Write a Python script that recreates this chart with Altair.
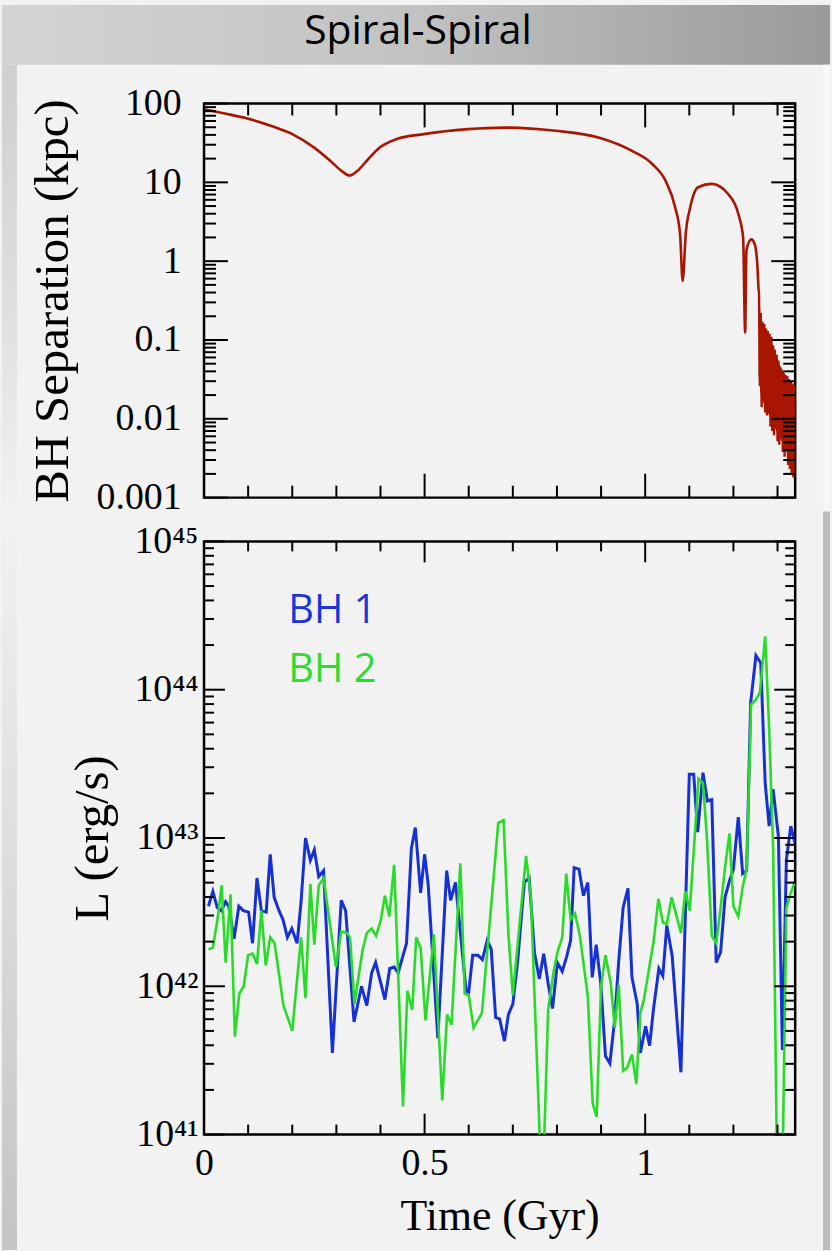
import altair as alt
import numpy as np
import pandas as pd

# ---------------- data ----------------
# Top panel: BH separation (kpc) vs time (Gyr)
sep_time = [0.000, 0.047, 0.0985, 0.151, 0.200, 0.249, 0.286, 0.313, 0.330, 0.3465,
            0.369, 0.399, 0.437, 0.498, 0.598, 0.680, 0.797, 0.894, 0.970, 1.016,
            1.046, 1.068, 1.079, 1.085, 1.092, 1.102, 1.120, 1.151, 1.188, 1.211,
            1.222, 1.2266, 1.2295, 1.2405, 1.248, 1.254, 1.257]
sep_kpc = [84.7, 74.8, 64.5, 52.1, 40.9, 27.8, 18.8, 13.8, 12.2, 13.8,
           18.8, 27.8, 35.4, 40.9, 47.3, 49.5, 45.1, 37.1, 25.1, 17.1,
           10.5, 4.8, 2.23, 0.56, 2.23, 4.8, 8.67, 9.55, 7.1, 4.0,
           2.0, 0.124, 1.37, 1.89, 1.66, 0.93, 0.43]
# final fast orbit (dense oscillation)
orbit_time = [1.257, 1.258, 1.260, 1.262, 1.264, 1.266, 1.268, 1.270, 1.272, 1.274, 1.276,
              1.278, 1.280, 1.282, 1.284, 1.286, 1.288, 1.290, 1.292, 1.294, 1.296,
              1.298, 1.300, 1.302, 1.304, 1.306, 1.308, 1.310, 1.312, 1.314, 1.316,
              1.318, 1.320, 1.322, 1.324, 1.326, 1.328, 1.330, 1.332, 1.334, 1.336,
              1.338]
orbit_kpc = [0.43, 0.40, 0.026, 0.22, 0.014, 0.17, 0.03, 0.16, 0.012, 0.14, 0.011,
             0.13, 0.02, 0.12, 0.008, 0.11, 0.007, 0.085, 0.0062, 0.075, 0.012,
             0.065, 0.0052, 0.055, 0.0047, 0.045, 0.009, 0.040, 0.0038, 0.038, 0.0033,
             0.036, 0.006, 0.035, 0.0026, 0.032, 0.0023, 0.030, 0.0020, 0.028, 0.0018,
             0.026]
# envelope of the fast orbit (filled band)
env_time = [1.257, 1.262, 1.266, 1.275, 1.285, 1.295, 1.305, 1.315, 1.325, 1.338]
env_high = [0.40, 0.20, 0.16, 0.13, 0.10, 0.07, 0.048, 0.038, 0.032, 0.026]
env_low = [0.035, 0.020, 0.017, 0.013, 0.010, 0.0075, 0.0058, 0.0045, 0.0033, 0.0024]

# Bottom panel: log10 L (erg/s)
bh1_time = [0.010, 0.020, 0.030, 0.039, 0.049, 0.056, 0.068, 0.079, 0.089, 0.101,
            0.110, 0.120, 0.130, 0.141, 0.150, 0.159, 0.170, 0.179, 0.189, 0.199,
            0.211, 0.220, 0.230, 0.241, 0.250, 0.260, 0.271, 0.291, 0.311, 0.321,
            0.340, 0.357, 0.369, 0.380, 0.389, 0.410, 0.421, 0.431, 0.440, 0.459,
            0.470, 0.479, 0.491, 0.500, 0.508, 0.530, 0.550, 0.559, 0.570, 0.594,
            0.600, 0.609, 0.621, 0.631, 0.642, 0.651, 0.661, 0.670, 0.681, 0.690,
            0.700, 0.711, 0.726, 0.737, 0.749, 0.760, 0.770, 0.781, 0.790, 0.801,
            0.812, 0.822, 0.831, 0.839, 0.850, 0.860, 0.870, 0.880, 0.889, 0.899,
            0.910, 0.920, 0.931, 0.940, 0.950, 0.961, 0.970, 0.982, 0.989, 1.001,
            1.010, 1.019, 1.031, 1.040, 1.049, 1.061, 1.081, 1.100, 1.110, 1.119,
            1.131, 1.141, 1.151, 1.161, 1.171, 1.181, 1.191, 1.200, 1.211, 1.221,
            1.230, 1.239, 1.251, 1.262, 1.272, 1.281, 1.290, 1.302, 1.311, 1.320,
            1.330, 1.339]
bh1_logL = [42.54, 42.64, 42.53, 42.51, 42.57, 42.54, 42.32, 42.54, 42.51, 42.50,
            42.29, 42.73, 42.51, 42.50, 42.89, 42.60, 42.51, 42.45, 42.33, 42.39,
            42.29, 42.57, 43.00, 42.85, 42.92, 42.74, 42.78, 41.55, 42.58, 42.51,
            41.76, 42.00, 41.87, 42.09, 42.16, 41.91, 42.12, 42.13, 42.09, 42.29,
            42.93, 43.07, 42.63, 42.89, 42.69, 41.65, 42.78, 42.58, 42.70, 41.97,
            41.96, 42.21, 42.21, 42.18, 42.31, 42.25, 41.79, 41.78, 41.63, 41.81,
            41.88, 42.17, 42.70, 42.73, 42.23, 42.05, 42.22, 42.00, 41.85, 42.16,
            42.10, 42.20, 42.31, 42.80, 42.79, 42.61, 42.70, 42.06, 42.28, 42.03,
            41.53, 41.48, 41.78, 42.17, 42.53, 42.66, 42.06, 41.88, 41.55, 41.73,
            41.60, 41.85, 42.12, 42.07, 42.41, 42.21, 41.42, 43.43, 43.43, 43.04,
            43.44, 43.25, 43.26, 42.16, 42.23, 42.60, 42.71, 42.79, 43.14, 42.76,
            42.78, 43.91, 44.23, 44.18, 43.37, 43.08, 43.33, 43.01, 41.57, 42.85,
            43.08, 42.97]
bh2_time = [0.010, 0.020, 0.030, 0.040, 0.049, 0.060, 0.070, 0.080, 0.090, 0.100,
            0.110, 0.120, 0.130, 0.140, 0.150, 0.160, 0.180, 0.200, 0.220, 0.230,
            0.241, 0.250, 0.260, 0.271, 0.299, 0.311, 0.324, 0.331, 0.341, 0.359,
            0.369, 0.380, 0.390, 0.401, 0.410, 0.420, 0.431, 0.451, 0.461, 0.472,
            0.481, 0.491, 0.502, 0.521, 0.540, 0.551, 0.561, 0.581, 0.591, 0.600,
            0.611, 0.630, 0.667, 0.679, 0.690, 0.700, 0.730, 0.741, 0.762, 0.771,
            0.780, 0.792, 0.801, 0.812, 0.821, 0.831, 0.841, 0.852, 0.870, 0.881,
            0.890, 0.900, 0.910, 0.922, 0.931, 0.940, 0.950, 0.959, 0.970, 0.980,
            0.989, 0.997, 1.010, 1.019, 1.030, 1.040, 1.049, 1.060, 1.081, 1.091,
            1.101, 1.110, 1.121, 1.131, 1.140, 1.151, 1.161, 1.171, 1.181, 1.191,
            1.200, 1.211, 1.221, 1.230, 1.240, 1.250, 1.260, 1.272, 1.281, 1.290,
            1.300, 1.310, 1.320, 1.330, 1.339]
bh2_logL = [42.25, 42.26, 42.44, 42.68, 42.16, 42.62, 41.66, 41.95, 42.00, 42.21,
            42.22, 42.15, 42.51, 42.14, 42.33, 42.29, 41.87, 41.70, 42.33, 41.92,
            42.69, 42.28, 42.68, 42.73, 42.13, 42.37, 42.36, 42.33, 41.88, 42.24,
            42.36, 42.39, 42.34, 42.45, 42.61, 42.47, 42.82, 41.19, 41.97, 41.84,
            42.33, 42.26, 41.77, 42.35, 41.23, 41.81, 41.74, 42.83, 41.95, 41.94,
            41.72, 41.82, 43.10, 43.12, 42.35, 41.94, 42.88, 42.60, 40.90, 40.95,
            41.84, 42.09, 42.23, 42.33, 42.76, 42.45, 42.49, 42.34, 41.93, 41.21,
            41.12, 42.00, 42.21, 42.02, 41.72, 42.01, 41.43, 41.45, 41.54, 41.34,
            41.82, 41.91, 42.14, 42.30, 42.59, 42.43, 42.42, 42.60, 42.36, 42.64,
            42.51, 42.91, 43.40, 43.37, 43.00, 42.34, 42.29, 42.53, 42.80, 43.03,
            42.54, 42.47, 42.67, 42.79, 43.90, 43.93, 43.98, 44.36, 43.74, 42.93,
            40.50, 40.50, 42.53, 42.63, 42.70]

legend_names = ["BH 1", "BH 2"]
legend_colors = ["#1b36d8", "#2edb2e"]
legend_time = [0.191, 0.191]
legend_logL = [44.45, 44.05]

x_major = [0, 0.5, 1.0]
x_minor = [0.1, 0.2, 0.3, 0.4, 0.6, 0.7, 0.8, 0.9, 1.1, 1.2, 1.3]
sep_major = [0.001, 0.01, 0.1, 1, 10, 100]
sep_minor = [k * 10.0 ** n for n in range(-3, 2) for k in range(2, 10)]
L_major = [41, 42, 43, 44, 45]
L_minor = [n + float(np.log10(k)) for n in range(41, 45) for k in range(2, 10)]

# ---------------- styling ----------------
SERIF = "Liberation Serif"
SANS = "Open Sans"
RED = "#a81500"
BLUE = "#1530d4"
GREEN = "#27dc27"
W, HT, HB = 594, 396, 596

sep_df = pd.DataFrame({"t": sep_time, "sep": sep_kpc})
orbit_df = pd.DataFrame({"t": orbit_time, "sep": orbit_kpc})
env_df = pd.DataFrame({"t": env_time, "hi": env_high, "lo": env_low})
bh1_df = pd.DataFrame({"t": bh1_time, "logL": bh1_logL})
bh2_df = pd.DataFrame({"t": bh2_time, "logL": bh2_logL})
leg_df = pd.DataFrame({"t": legend_time, "logL": legend_logL, "name": legend_names, "c": legend_colors})
dummy = pd.DataFrame({"k": [0]})

xs = alt.Scale(domain=[0, 1.34], nice=False, zero=False)
ys_top = alt.Scale(type="log", domain=[0.001, 100], nice=False)
ys_bot = alt.Scale(domain=[41, 45], nice=False, zero=False)

LBL = dict(domain=False, ticks=True, tickSize=0, tickOpacity=0, grid=False, labels=True,
           labelFont=SERIF, labelFontSize=38, labelColor="black", labelFlush=False,
           labelOverlap=False, zindex=1)
TTL = dict(titleFont=SERIF, titleFontWeight="normal", titleColor="black")


def rect(x1, x2, y1, y2, fill):
    return alt.Chart(dummy).mark_rect(fill=fill).encode(
        x=alt.value(x1), x2=alt.value(x2), y=alt.value(y1), y2=alt.value(y2))


def hgrad(c1, c2, c3):
    return alt.LinearGradient(gradient="linear", x1=0, x2=1, y1=0, y2=0,
                              stops=[alt.GradientStop(color=c1, offset=0),
                                     alt.GradientStop(color=c2, offset=0.5),
                                     alt.GradientStop(color=c3, offset=1)])


def vgrad(c1, c2, c3):
    return alt.LinearGradient(gradient="linear", x1=0, x2=0, y1=0, y2=1,
                              stops=[alt.GradientStop(color=c1, offset=0),
                                     alt.GradientStop(color=c2, offset=0.5),
                                     alt.GradientStop(color=c3, offset=1)])


def xticks(values, height, size):
    df = pd.DataFrame({"v": values})
    base = alt.Chart(df).mark_rule(color="black", strokeWidth=2)
    xe = alt.X("v:Q", scale=xs, axis=None)
    return [base.encode(x=xe, y=alt.value(height - size), y2=alt.value(height)),
            base.encode(x=xe, y=alt.value(0), y2=alt.value(size))]


def yticks(values, yscale, size):
    df = pd.DataFrame({"v": values})
    base = alt.Chart(df).mark_rule(color="black", strokeWidth=2)
    ye = alt.Y("v:Q", scale=yscale, axis=None)
    return [base.encode(y=ye, x=alt.value(0), x2=alt.value(size)),
            base.encode(y=ye, x=alt.value(W - size), x2=alt.value(W))]


# ---------------- top panel ----------------
sep_line = alt.Chart(sep_df).mark_line(color=RED, strokeWidth=2.6, clip=True, interpolate="monotone").encode(
    x=alt.X("t:Q", scale=xs, axis=None),
    y=alt.Y("sep:Q", scale=ys_top,
            axis=alt.Axis(orient="left", values=sep_major, format="~g", labelPadding=23,
                          title="BH Separation (kpc)", titleFontSize=49, titlePadding=19, **LBL, **TTL)))
orbit_band = alt.Chart(env_df).mark_area(color=RED, clip=True, opacity=1).encode(
    x=alt.X("t:Q", scale=xs, axis=None),
    y=alt.Y("hi:Q", scale=ys_top, axis=None), y2="lo:Q")
orbit_line = alt.Chart(orbit_df).mark_line(color=RED, strokeWidth=2.4, clip=True).encode(
    x=alt.X("t:Q", scale=xs, axis=None), y=alt.Y("sep:Q", scale=ys_top, axis=None))

title_txt = alt.Chart(dummy).mark_text(text="Spiral-Spiral", font=SANS, fontSize=41, align="center",
                                       baseline="alphabetic", color="black").encode(
    x=alt.value(215), y=alt.value(-60))

top = alt.layer(
    rect(-203, 629, -99, -39, hgrad("#d4d4d4", "#c2c2c2", "#9a9a9a")),
    rect(-203, -188, -39, 420, vgrad("#cfcfcf", "#dedede", "#f2f2f2")),
    rect(622, 629, -39, 420, "#f7f7f7"),
    title_txt,
    sep_line,
    orbit_band,
    orbit_line,
    *xticks(x_minor, HT, 12), *xticks(x_major, HT, 24),
    *yticks(sep_minor, ys_top, 12), *yticks(sep_major, ys_top, 24),
).resolve_axis(x="independent", y="independent").properties(width=W, height=HT)

# ---------------- bottom panel ----------------
L_expr = ("datum.value == 41 ? '10\u2074\u00b9' : datum.value == 42 ? '10\u2074\u00b2' : "
          "datum.value == 43 ? '10\u2074\u00b3' : datum.value == 44 ? '10\u2074\u2074' : '10\u2074\u2075'")

bh1_line = alt.Chart(bh1_df).mark_line(color=BLUE, strokeWidth=3.0, clip=True).encode(
    x=alt.X("t:Q", scale=xs,
            axis=alt.Axis(orient="bottom", values=x_major, format="~g", labelPadding=10,
                          title="Time (Gyr)", titleFontSize=44, titlePadding=12, **LBL, **TTL)),
    y=alt.Y("logL:Q", scale=ys_bot,
            axis=alt.Axis(orient="left", values=L_major, labelExpr=L_expr, labelPadding=6,
                          title="L (erg/s)", titleFontSize=49, titlePadding=16, **LBL, **TTL)))
bh2_line = alt.Chart(bh2_df).mark_line(color=GREEN, strokeWidth=2.6, clip=True).encode(
    x=alt.X("t:Q", scale=xs, axis=None), y=alt.Y("logL:Q", scale=ys_bot, axis=None))
legend_txt = alt.Chart(leg_df).mark_text(font=SANS, fontSize=40, align="left", baseline="alphabetic").encode(
    x=alt.X("t:Q", scale=xs, axis=None), y=alt.Y("logL:Q", scale=ys_bot, axis=None),
    text="name:N", color=alt.Color("c:N", scale=None))

bottom = alt.layer(
    rect(-203, -188, -30, 712, vgrad("#f2f2f2", "#dcdcdc", "#c4c4c4")),
    rect(622, 629, -30, 712, "#bdbdbd"),
    bh1_line,
    bh2_line,
    legend_txt,
    *xticks(x_minor, HB, 10), *xticks(x_major, HB, 21),
    *yticks(L_minor, ys_bot, 10), *yticks(L_major, ys_bot, 21),
).resolve_axis(x="independent", y="independent").properties(width=W, height=HB)

chart = alt.vconcat(top, bottom, spacing=44, bounds="flush").properties(
    background="#f2f2f2", padding=0
).configure_view(stroke="black", strokeWidth=2.5)

chart.save("out.html", embed_options={"renderer": "svg", "actions": False})
